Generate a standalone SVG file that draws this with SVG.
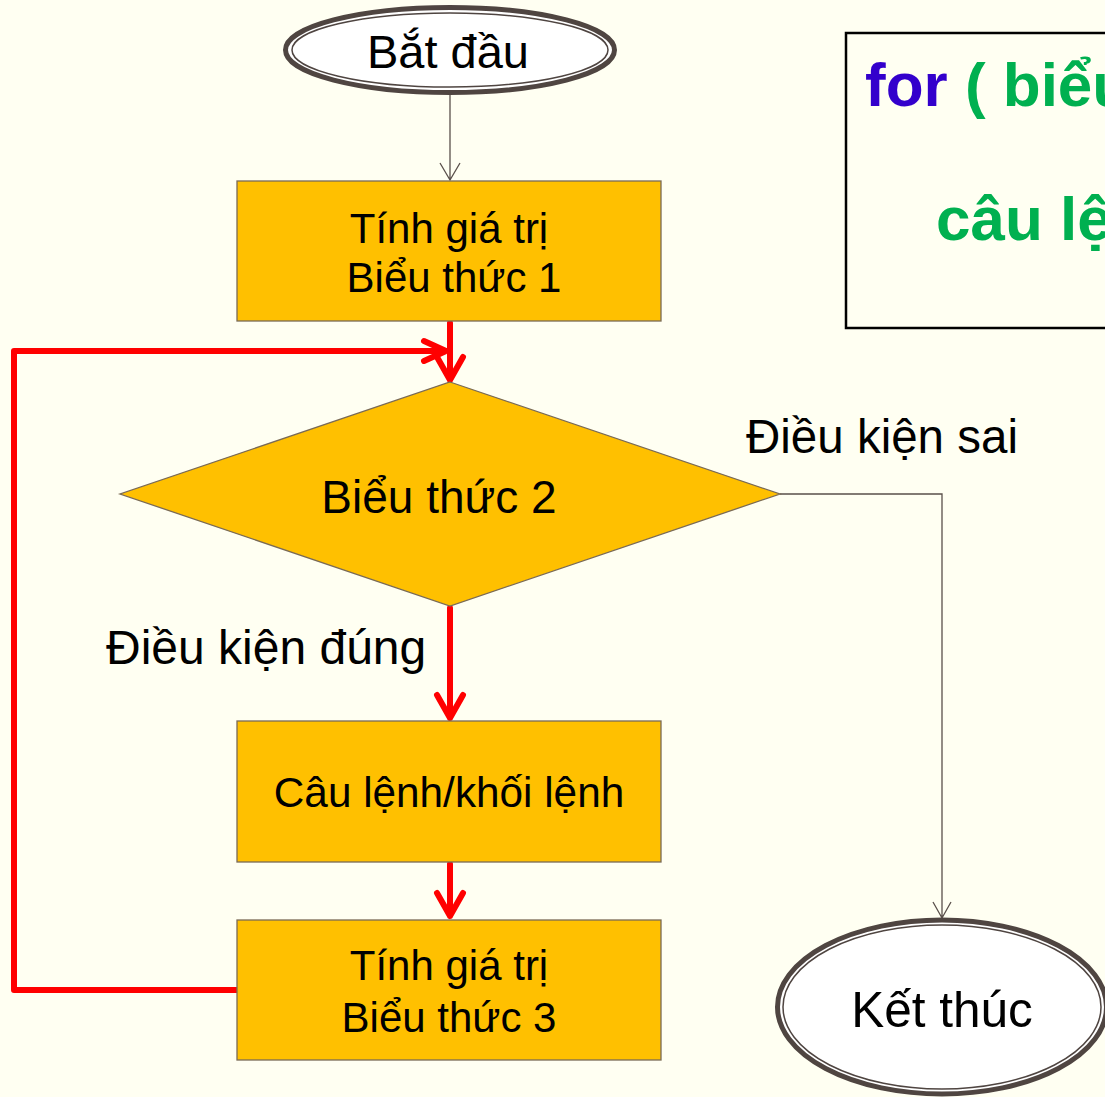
<svg xmlns="http://www.w3.org/2000/svg" width="1105" height="1097" viewBox="0 0 1105 1097">
  <style>
    .lbl { font-family: "Liberation Sans", Arial, sans-serif; fill: #000; text-anchor: middle; }
    .free { font-family: "Liberation Sans", Arial, sans-serif; fill: #000; }
    .box { fill: #FFC000; stroke: #7a6a55; stroke-width: 1.3; }
    .term-outer { fill: #fff; stroke: #4f4541; stroke-width: 5; }
    .term-inner { fill: none; stroke: #4f4541; stroke-width: 1.5; }
    .flow { fill: none; stroke: #5a504b; stroke-width: 1.3; }
    .loop { fill: none; stroke: #FF0000; stroke-width: 6; stroke-linecap: round; stroke-linejoin: round; }
    .code { font-family: "Liberation Sans", Arial, sans-serif; font-weight: bold; font-size: 62px; }
  </style>

  <rect width="1105" height="1097" fill="#FFFFF2"/>

  <!-- syntax panel (runs past the right edge) -->
  <g id="syntax">
    <rect x="846" y="33" width="280" height="295" fill="none" stroke="#000" stroke-width="2.5"/>
    <text class="code" x="865" y="106"><tspan fill="#3300CC">for</tspan><tspan fill="#00B050"> ( biểu thức 1; biểu thức 2; biểu thức 3)</tspan></text>
    <text class="code" x="936" y="240" fill="#00B050">câu lệnh;</text>
  </g>

  <!-- connectors -->
  <g id="connectors">
    <!-- grey flow lines -->
    <path class="flow" d="M450 95 V180 M440 163 L450 180 L460 163"/>
    <path class="flow" d="M780 494 H942 V918 M933 902 L942 918 L951 902"/>
    <!-- red loop path -->
    <path class="loop" d="M450 323 V380 M437 357 L450 380 L463 357"/>
    <path class="loop" d="M239 990 H14 V351 H446 M424 341 L446 351 L424 361"/>
    <path class="loop" d="M450 608 V718 M437 695 L450 718 L463 695"/>
    <path class="loop" d="M450 864 V916 M437 893 L450 916 L463 893"/>
  </g>

  <g id="start">
    <ellipse class="term-outer" cx="450" cy="50" rx="164.5" ry="42.5"/>
    <ellipse class="term-inner" cx="450" cy="50" rx="158" ry="37"/>
    <text class="lbl" x="448" y="68" font-size="47">Bắt đầu</text>
  </g>

  <g id="init">
    <rect class="box" x="237" y="181" width="424" height="140"/>
    <text class="lbl" x="449" y="243" font-size="42">Tính giá trị</text>
    <text class="lbl" x="454" y="292" font-size="42">Biểu thức 1</text>
  </g>

  <g id="condition">
    <polygon class="box" points="450,382 780,494 450,606 120,494"/>
    <text class="lbl" x="439" y="513" font-size="46">Biểu thức 2</text>
  </g>

  <g id="body">
    <rect class="box" x="237" y="721" width="424" height="141"/>
    <text class="lbl" x="449" y="807" font-size="42.3">Câu lệnh/khối lệnh</text>
  </g>

  <g id="step">
    <rect class="box" x="237" y="920" width="424" height="140"/>
    <text class="lbl" x="449" y="980" font-size="42">Tính giá trị</text>
    <text class="lbl" x="449" y="1032" font-size="42">Biểu thức 3</text>
  </g>

  <g id="end">
    <ellipse class="term-outer" cx="942" cy="1007" rx="164.5" ry="87"/>
    <ellipse class="term-inner" cx="942" cy="1007" rx="159" ry="82"/>
    <text class="lbl" x="942" y="1027" font-size="49.5">Kết thúc</text>
  </g>

  <!-- branch labels -->
  <text class="free" x="106" y="664" font-size="48">Điều kiện đúng</text>
  <text class="free" x="746" y="453" font-size="47.5">Điều kiện sai</text>
</svg>
